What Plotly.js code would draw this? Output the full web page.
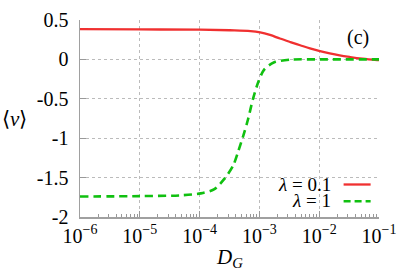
<!DOCTYPE html>
<html><head><meta charset="utf-8">
<script src="https://cdn.plot.ly/plotly-3.0.1.min.js"></script>
<style>html,body{margin:0;padding:0;background:#fff}#plot{width:407px;height:271px}</style>
</head><body><div id="plot"></div>
<script>
// lambda = 0.1
const dRed = [1e-6, 1e-5, 1e-4, 3.2e-4, 7.1e-4, 1.03e-3, 1.5e-3, 2.2e-3, 3.3e-3, 4.8e-3, 7.0e-3, 1.03e-2, 1.5e-2, 2.2e-2, 3.3e-2, 5.3e-2, 9.3e-2, 1e-1];
const vRed = [0.385, 0.38, 0.377, 0.37, 0.36, 0.343, 0.31, 0.265, 0.22, 0.18, 0.14, 0.105, 0.075, 0.05, 0.03, 0.01, -0.008, -0.01];
// lambda = 1
const dGreen = [1e-6, 1e-5, 4.9e-5, 1.05e-4, 1.74e-4, 2.57e-4, 3.63e-4, 4.37e-4, 5.37e-4, 6.46e-4, 7.76e-4, 9.55e-4, 1.2e-3, 1.74e-3, 3.4e-3, 1e-2, 1e-1];
const vGreen = [-1.74, -1.735, -1.725, -1.70, -1.65, -1.52, -1.35, -1.18, -0.97, -0.76, -0.51, -0.29, -0.13, -0.04, -0.003, 0, 0];
const xTickVals = [1e-6, 1e-5, 1e-4, 1e-3, 1e-2, 1e-1];
const xTickText = ['10<sup>−6</sup>', '10<sup>−5</sup>', '10<sup>−4</sup>', '10<sup>−3</sup>', '10<sup>−2</sup>', '10<sup>−1</sup>'];
const yTickVals = [0.5, 0, -0.5, -1, -1.5, -2];
const yTickText = ['0.5', '0', '-0.5', '-1', '-1.5', '-2'];
const legendNames = ['<i>λ</i> = 0.1', '<i>λ</i> = 1'];

const minorVals = [];
for (let e = -6; e < -1; e++) for (let m = 2; m <= 9; m++) minorVals.push(m * Math.pow(10, e));

const RED = '#f03030', GREEN = '#10c010';
const FONT = 'Liberation Serif, serif';

const traces = [
  {x: dRed, y: vRed, mode: 'lines', line: {color: RED, width: 2.3, shape: 'spline', smoothing: 1}, showlegend: false, hoverinfo: 'skip'},
  {x: dGreen, y: vGreen, mode: 'lines', line: {color: GREEN, width: 2.6, dash: '8px,5px', shape: 'spline', smoothing: 0.8}, showlegend: false, hoverinfo: 'skip'}
];

const layout = {
  width: 407, height: 271,
  margin: {l: 80, r: 28, t: 20, b: 54},
  paper_bgcolor: '#fff', plot_bgcolor: '#fff',
  font: {family: FONT, size: 20, color: '#000'},
  showlegend: false,
  xaxis: {
    type: 'log', range: [-6, -1],
    tickmode: 'array', tickvals: xTickVals, ticktext: xTickText,
    ticks: 'inside', ticklen: 6, tickcolor: '#999', tickwidth: 1,
    minor: {tickmode: 'array', tickvals: minorVals, ticks: 'inside', ticklen: 3, tickcolor: '#999', showgrid: false},
    showline: true, linecolor: '#a0a0a0', linewidth: 1.5, mirror: false,
    showgrid: true, gridcolor: '#bbbbbb', griddash: 'dot', gridwidth: 1,
    zeroline: false, tickfont: {family: FONT, size: 20}
  },
  yaxis: {
    range: [-2, 0.5],
    tickmode: 'array', tickvals: yTickVals, ticktext: yTickText,
    ticks: 'inside', ticklen: 6, tickcolor: '#999', tickwidth: 1,
    showline: true, linecolor: '#a0a0a0', linewidth: 1.5,
    showgrid: true, gridcolor: '#bbbbbb', griddash: 'dot', gridwidth: 1,
    zeroline: false, tickfont: {family: FONT, size: 20}, ticklabelstandoff: 6
  },
  annotations: [
    {xref: 'paper', yref: 'paper', x: -0.22, y: 0.50, text: '⟨<i>v</i>⟩', showarrow: false, font: {family: FONT, size: 21}, xanchor: 'center', yanchor: 'middle'},
    {xref: 'paper', yref: 'paper', x: 0.5, y: -0.208, text: '<i>D</i><sub><i>G</i></sub>', showarrow: false, font: {family: FONT, size: 21}, xanchor: 'center', yanchor: 'middle'},
    {xref: 'paper', yref: 'paper', x: 0.93, y: 0.91, text: '(c)', showarrow: false, font: {family: FONT, size: 20}, xanchor: 'center', yanchor: 'middle'},
    {xref: 'paper', yref: 'paper', x: 0.845, y: 0.167, text: legendNames[0], showarrow: false, font: {family: FONT, size: 19}, xanchor: 'right', yanchor: 'middle'},
    {xref: 'paper', yref: 'paper', x: 0.845, y: 0.083, text: legendNames[1], showarrow: false, font: {family: FONT, size: 19}, xanchor: 'right', yanchor: 'middle'}
  ],
  shapes: [
    {type: 'line', xref: 'paper', yref: 'paper', x0: 0.8816, x1: 0.972, y0: 0.165, y1: 0.165, line: {color: RED, width: 2.3}},
    {type: 'line', xref: 'paper', yref: 'paper', x0: 0.8816, x1: 0.972, y0: 0.08, y1: 0.08, line: {color: GREEN, width: 2.6, dash: '7px,4px'}}
  ]
};

Plotly.newPlot('plot', traces, layout, {staticPlot: true, displayModeBar: false});
</script></body></html>
